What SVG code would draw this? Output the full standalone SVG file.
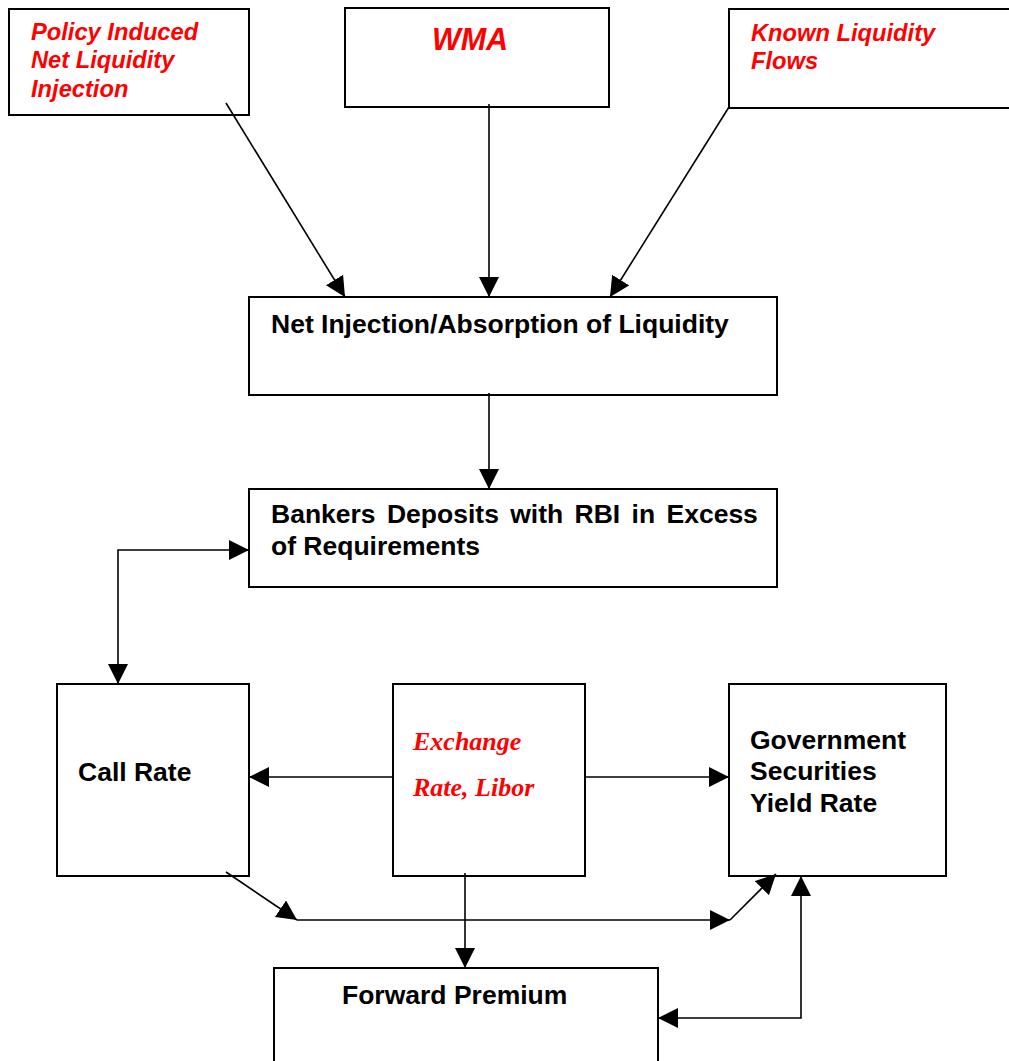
<svg xmlns="http://www.w3.org/2000/svg" width="1009" height="1061" viewBox="0 0 1009 1061">
<style>
.box{fill:#fff;stroke:#000;stroke-width:2}
.lbl{font-family:"Liberation Sans",Arial,sans-serif;font-weight:bold;font-size:26.5px;fill:#000}
.red{font-family:"Liberation Sans",Arial,sans-serif;font-weight:bold;font-style:italic;font-size:23.7px;fill:#ff0000}
.redserif{font-family:"Liberation Serif","Times New Roman",serif;font-weight:bold;font-style:italic;font-size:26px;fill:#ff0000}
.conn{stroke:#000;stroke-width:1.6;fill:none}
</style>
<defs>
<marker id="ah" markerUnits="userSpaceOnUse" markerWidth="20" markerHeight="20" refX="20" refY="10" orient="auto-start-reverse" viewBox="0 0 20 20">
<path d="M0,0 L20,10 L0,20 z" fill="#000"/>
</marker>
</defs>
<rect width="1009" height="1061" fill="#fff"/>
<g id="policy">
<rect class="box" x="9" y="9" width="240" height="106"/>
<text class="red" x="31" y="40">Policy Induced</text>
<text class="red" x="31" y="68">Net Liquidity</text>
<text class="red" x="31" y="97">Injection</text>
</g>
<g id="wma">
<rect class="box" x="345" y="8" width="264" height="99"/>
<text class="red" x="470" y="50" text-anchor="middle" style="font-size:30.5px">WMA</text>
</g>
<g id="known">
<rect class="box" x="729" y="9" width="290" height="99"/>
<text class="red" x="751" y="41">Known Liquidity</text>
<text class="red" x="751" y="69">Flows</text>
</g>
<g id="netinjection">
<rect class="box" x="249" y="297" width="528" height="98"/>
<text class="lbl" x="271" y="333">Net Injection/Absorption of Liquidity</text>
</g>
<g id="bankers">
<rect class="box" x="249" y="489" width="528" height="98"/>
<text class="lbl" x="271" y="523" word-spacing="4">Bankers Deposits with RBI in Excess</text>
<text class="lbl" x="271" y="555">of Requirements</text>
</g>
<g id="callrate">
<rect class="box" x="57" y="684" width="192" height="192"/>
<text class="lbl" x="78" y="781">Call Rate</text>
</g>
<g id="exchange">
<rect class="box" x="393" y="684" width="192" height="192"/>
<text class="redserif" x="413" y="750">Exchange</text>
<text class="redserif" x="413" y="796">Rate, Libor</text>
</g>
<g id="govsec">
<rect class="box" x="729" y="684" width="217" height="192"/>
<text class="lbl" x="750" y="749">Government</text>
<text class="lbl" x="750" y="780">Securities</text>
<text class="lbl" x="750" y="812">Yield Rate</text>
</g>
<g id="forward">
<rect class="box" x="274" y="968" width="384" height="100"/>
<text class="lbl" x="342" y="1004">Forward Premium</text>
</g>
<g id="connectors">
<line class="conn" x1="226" y1="103" x2="345" y2="297" marker-end="url(#ah)"/>
<line class="conn" x1="489" y1="104" x2="489" y2="297" marker-end="url(#ah)"/>
<line class="conn" x1="729" y1="107" x2="610" y2="297" marker-end="url(#ah)"/>
<line class="conn" x1="489" y1="393" x2="489" y2="489" marker-end="url(#ah)"/>
<path class="conn" d="M249,550 H118 V684" marker-start="url(#ah)" marker-end="url(#ah)"/>
<line class="conn" x1="393" y1="777" x2="249" y2="777" marker-end="url(#ah)"/>
<line class="conn" x1="585" y1="777" x2="729" y2="777" marker-end="url(#ah)"/>
<line class="conn" x1="226" y1="872" x2="297" y2="920" marker-end="url(#ah)"/>
<line class="conn" x1="297" y1="920" x2="730" y2="920" marker-end="url(#ah)"/>
<line class="conn" x1="730" y1="920" x2="776" y2="874" marker-end="url(#ah)"/>
<line class="conn" x1="465" y1="873" x2="465" y2="968" marker-end="url(#ah)"/>
<path class="conn" d="M658,1018 H801 V876" marker-start="url(#ah)" marker-end="url(#ah)"/>
</g>
</svg>
